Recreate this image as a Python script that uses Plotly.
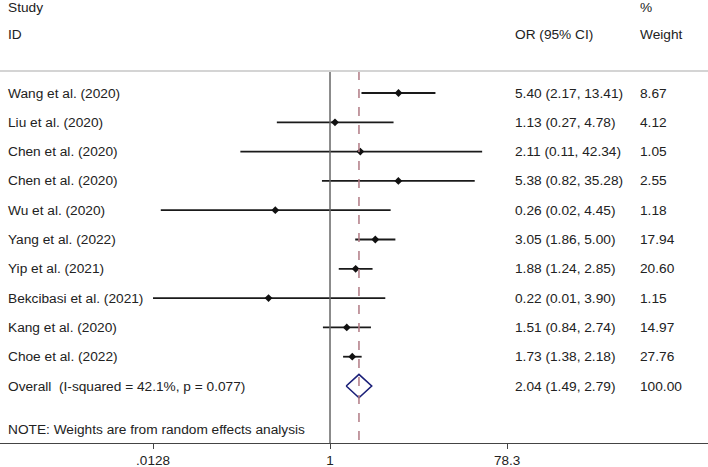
import plotly.graph_objects as go

studies = ["Wang et al. (2020)", "Liu et al. (2020)", "Chen et al. (2020)",
           "Chen et al. (2020)", "Wu et al. (2020)", "Yang et al. (2022)",
           "Yip et al. (2021)", "Bekcibasi et al. (2021)", "Kang et al. (2020)",
           "Choe et al. (2022)"]
odds = [5.40, 1.13, 2.11, 5.38, 0.26, 3.05, 1.88, 0.22, 1.51, 1.73]
ci_lo = [2.17, 0.27, 0.11, 0.82, 0.0155, 1.86, 1.24, 0.0128, 0.84, 1.38]
ci_hi = [13.41, 4.78, 42.34, 35.28, 4.45, 5.00, 2.85, 3.90, 2.74, 2.18]
weights = [8.67, 4.12, 1.05, 2.55, 1.18, 17.94, 20.60, 1.15, 14.97, 27.76]

overall_label = "Overall  (I-squared = 42.1%, p = 0.077)"
overall = (2.04, 1.49, 2.79)
overall_weight = 100.00
note = "NOTE: Weights are from random effects analysis"

tick_vals = [0.0128, 1, 78.3]
tick_text = [".0128", "1", "78.3"]

FONT = "Liberation Sans, Arial, sans-serif"
TXT = "#222222"
X_LO, X_HI = tick_vals[0], tick_vals[-1]

n = len(studies)
rows = list(range(n))
row_overall = n
row_note = n + 1.5
row_line = -0.75

fig = go.Figure()

# CI whiskers (clipped to axis range like Stata)
xs, ys = [], []
for r, lo, hi in zip(rows, ci_lo, ci_hi):
    xs += [max(lo, X_LO), min(hi, X_HI), None]
    ys += [r, r, None]
fig.add_trace(go.Scatter(x=xs, y=ys, mode="lines",
                         line=dict(color="#1a1a1a", width=1.8), hoverinfo="skip"))
fig.add_trace(go.Scatter(x=odds, y=rows, mode="markers",
                         marker=dict(symbol="diamond", size=6, color="#111111")))

# pooled diamond
est, lo, hi = overall
h = 0.4
fig.add_trace(go.Scatter(x=[lo, est, hi, est, lo],
                         y=[row_overall, row_overall - h, row_overall, row_overall + h, row_overall],
                         mode="lines", line=dict(color="#1a1f78", width=1.6), hoverinfo="skip"))

# reference lines
fig.add_shape(type="line", xref="x", yref="y", x0=1, x1=1, y0=row_line, y1=11.945,
              line=dict(color="#666666", width=1.5))
fig.add_shape(type="line", xref="x", yref="y", x0=est, x1=est, y0=row_line, y1=11.945,
              line=dict(color="#b07a84", width=1.5, dash="dash"))
fig.add_shape(type="line", xref="paper", yref="y", x0=0, x1=1, y0=row_line, y1=row_line,
              line=dict(color="#d4d4d4", width=2))

# text columns
def txt(x, y, s):
    fig.add_annotation(x=x, y=y, xref="paper", yref="y", text=s, showarrow=False,
                       xanchor="left", yanchor="middle",
                       font=dict(family=FONT, size=13.7, color=TXT))

col_study, col_or, col_w = 6 / 708, 513 / 708, 638 / 708
txt(col_study, -2.935, "Study")
txt(col_study, -1.98, "ID")
txt(col_or, -1.98, "OR (95% CI)")
txt(col_w, -2.935, "%")
txt(col_w, -1.98, "Weight")
for r, s, o, lo_, hi_, w in zip(rows, studies, odds, ci_lo, ci_hi, weights):
    txt(col_study, r, s)
    txt(col_or, r, f"{o:.2f} ({lo_:.2f}, {hi_:.2f})")
    txt(col_w, r, f"{w:.2f}")
txt(col_study, row_overall, overall_label)
txt(col_or, row_overall, f"{est:.2f} ({lo:.2f}, {hi:.2f})")
txt(col_w, row_overall, f"{overall_weight:.2f}")
txt(col_study, row_note, note)

fig.update_xaxes(type="log", range=[-3.529, 4.042], tickvals=tick_vals, ticktext=tick_text,
                 showgrid=False, zeroline=False, showline=True, linecolor="#444444",
                 linewidth=1.3, ticks="outside", ticklen=5, tickcolor="#444444",
                 tickfont=dict(family=FONT, size=13.5, color=TXT), automargin=False)
fig.update_yaxes(range=[11.945, -3.174], visible=False, automargin=False)
fig.update_layout(width=708, height=467, showlegend=False,
                  paper_bgcolor="white", plot_bgcolor="white",
                  margin=dict(l=0, r=0, t=0, b=24))
# page body has an 8px default margin; drop it so the figure fills the window
fig.write_html("out.html", config={"displayModeBar": False},
               post_script="document.body.style.margin='0';")
